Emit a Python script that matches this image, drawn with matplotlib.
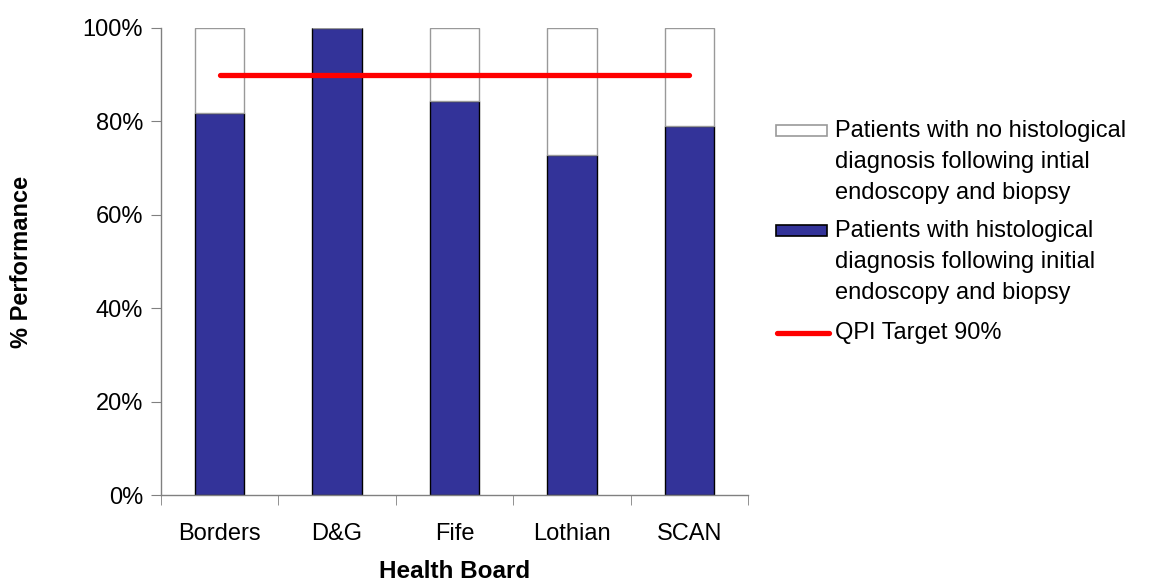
import matplotlib
matplotlib.use("Agg")
import matplotlib.pyplot as plt
from matplotlib.patches import Rectangle
from matplotlib.lines import Line2D
import numpy as np

plt.rcParams['font.family'] = ['Liberation Sans', 'DejaVu Sans']

boards = ["Borders", "D&G", "Fife", "Lothian", "SCAN"]
with_diagnosis = [81.8, 100.0, 84.3, 72.7, 79.0]
without_diagnosis = [100 - v for v in with_diagnosis]
qpi_target = [90, 90, 90, 90, 90]

legend_labels = [
    "Patients with no histological\ndiagnosis following intial\nendoscopy and biopsy",
    "Patients with histological\ndiagnosis following initial\nendoscopy and biopsy",
    "QPI Target 90%",
]

W, H = 1154, 584
fig = plt.figure(figsize=(W / 100, H / 100), dpi=100)
ax = fig.add_axes([161 / W, 1 - 495 / H, (748 - 161) / W, (495 - 28) / H])

x = np.arange(len(boards))
blue = "#333399"
ax.bar(x, with_diagnosis, width=0.42, color=blue, edgecolor="black", linewidth=1.0, zorder=2)
ax.bar(x, without_diagnosis, bottom=with_diagnosis, width=0.42, color="white",
       edgecolor="#999999", linewidth=1.0, zorder=2)
ax.plot(x, qpi_target, color="#ff0000", linewidth=3.8, solid_capstyle="round", zorder=3)

ax.set_xlim(-0.5, len(boards) - 0.5)
ax.set_ylim(0, 100)
ax.set_yticks(np.arange(0, 101, 20))
ax.set_yticklabels([f"{v}%" for v in range(0, 101, 20)])
ax.set_xticks(x)
ax.set_xticklabels(boards)
ax.set_xticks(np.arange(-0.5, len(boards), 1.0), minor=True)
ax.tick_params(axis="x", which="major", length=0, pad=20, labelsize=17)
ax.tick_params(axis="x", which="minor", length=7, color="#808080", direction="out")
ax.tick_params(axis="y", length=7, color="#808080", direction="out", pad=6, labelsize=17)

for side in ("top", "right"):
    ax.spines[side].set_visible(False)
for side in ("left", "bottom"):
    ax.spines[side].set_color("#808080")
    ax.spines[side].set_linewidth(1.0)

fig.text(22 / W, 1 - 262 / H, "% Performance", rotation=90, ha="center", va="center",
         fontsize=17, fontweight="bold")
fig.text(455 / W, 1 - 572 / H, "Health Board", ha="center", va="center",
         fontsize=17.5, fontweight="bold")

# legend drawn in figure pixel coordinates
def fx(px):
    return px / W

def fy(py):
    return 1 - py / H

fig.patches.append(Rectangle((fx(776), fy(136)), (827 - 776) / W, 11 / H,
                             facecolor="white", edgecolor="#999999", linewidth=1.2,
                             transform=fig.transFigure, figure=fig))
fig.patches.append(Rectangle((fx(776), fy(236)), (827 - 776) / W, 11 / H,
                             facecolor=blue, edgecolor="black", linewidth=1.2,
                             transform=fig.transFigure, figure=fig))
fig.lines.append(Line2D([fx(777), fx(829)], [fy(333), fy(333)], color="#ff0000",
                        linewidth=3.8, solid_capstyle="round",
                        transform=fig.transFigure, figure=fig))

fig.text(fx(835), fy(120), legend_labels[0], ha="left", va="top", fontsize=17,
         linespacing=1.53)
fig.text(fx(835), fy(220), legend_labels[1], ha="left", va="top", fontsize=17,
         linespacing=1.53)
fig.text(fx(835), fy(333), legend_labels[2], ha="left", va="center", fontsize=17)

fig.savefig("out.png", dpi=100)
